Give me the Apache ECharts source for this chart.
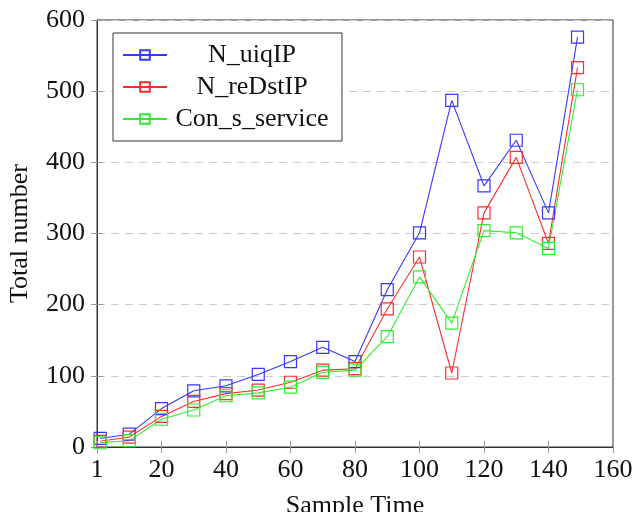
<!DOCTYPE html>
<html lang="en">
    <head>
        <meta charset="UTF-8">
        <title>Sample Time chart</title>
        <script src="https://cdn.jsdelivr.net/npm/echarts@6/dist/echarts.min.js"></script>
        <style>
            body { margin: 0; background: #fff; }
            #main { width: 635px; height: 512px; }
        </style>
    </head>
    <body>
        <div id="main"></div>
        <script>
            // sample times (x)
            var sampleTimes = [1, 10, 20, 30, 40, 50, 60, 70, 80, 90, 100, 110, 120, 130, 140, 149];
            var uiqIP = [12, 18, 54, 79, 86, 102, 120, 140, 120, 221, 301, 487, 367, 431, 329, 576];
            var reDstIP = [8, 14, 43, 64, 75, 80, 91, 108, 110, 194, 267, 104, 329, 407, 286, 533];
            var conService = [6, 9, 39, 52, 72, 76, 84, 105, 108, 155, 239, 174, 304, 301, 279, 502];
            var seriesNames = ['N_uiqIP', 'N_reDstIP', 'Con_s_service'];
            var colors = ['rgb(55,55,255)', 'rgb(255,45,45)', 'rgb(45,240,45)'];

            var font = "'Liberation Serif', 'DejaVu Serif', serif";

            function pairs(ys) {
                var out = [];
                for (var i = 0; i < sampleTimes.length; i++) {
                    out.push([sampleTimes[i], ys[i]]);
                }
                return out;
            }

            function lineSeries(name, ys, color) {
                return {
                    name: name,
                    type: 'line',
                    data: pairs(ys),
                    symbol: 'rect',
                    symbolSize: 12,
                    showSymbol: true,
                    lineStyle: { color: color, width: 1.1 },
                    itemStyle: { color: 'transparent', borderColor: color, borderWidth: 1.2 },
                    emphasis: { disabled: true },
                    animation: false
                };
            }

            var myChart = echarts.init(document.getElementById('main'));
            var option = {
                animation: false,
                grid: {
                    left: 97, right: 22, top: 20, bottom: 65,
                    outerBoundsMode: 'none',
                    show: true, borderColor: '#333', borderWidth: 1
                },
                legend: {
                    orient: 'vertical',
                    left: 113,
                    top: 33,
                    data: seriesNames,
                    itemWidth: 44,
                    itemHeight: 12,
                    itemGap: 6,
                    padding: [9, 10, 9, 9],
                    borderColor: '#333',
                    borderWidth: 1,
                    backgroundColor: '#fff',
                    selectedMode: false,
                    formatter: function (n) { return '{a|' + n + '}'; },
                    textStyle: {
                        rich: {
                            a: { fontFamily: font, fontSize: 26, color: '#111', width: 160, align: 'center', lineHeight: 26 }
                        }
                    }
                },
                xAxis: [{
                    type: 'value',
                    min: 0, max: 160, interval: 20,
                    name: 'Sample Time',
                    nameLocation: 'middle',
                    nameGap: 46,
                    nameTextStyle: { fontFamily: font, fontSize: 26, color: '#111' },
                    axisLine: { show: true, lineStyle: { color: '#333' } },
                    axisTick: { inside: true, length: 6, lineStyle: { color: '#999' } },
                    axisLabel: {
                        fontFamily: font, fontSize: 26, color: '#111', margin: 10,
                        formatter: function (v) { return v === 0 ? '1' : v; }
                    },
                    splitLine: { show: false }
                }, {
                    type: 'value',
                    position: 'top',
                    min: 0, max: 160, interval: 20,
                    axisLine: { show: true, lineStyle: { color: '#333' } },
                    axisTick: { inside: true, length: 6, lineStyle: { color: '#999' } },
                    axisLabel: { show: false },
                    splitLine: { show: false }
                }],
                yAxis: [{
                    type: 'value',
                    min: 0, max: 600, interval: 100,
                    name: 'Total number',
                    nameLocation: 'middle',
                    nameGap: 64,
                    nameRotate: 90,
                    nameTextStyle: { fontFamily: font, fontSize: 26, color: '#111' },
                    axisLine: { show: true, lineStyle: { color: '#333' } },
                    axisTick: { inside: true, length: 6, lineStyle: { color: '#999' } },
                    axisLabel: { fontFamily: font, fontSize: 26, color: '#111', margin: 12 },
                    splitLine: { show: true, lineStyle: { color: '#ccc', type: [8, 6], width: 1 } }
                }, {
                    type: 'value',
                    position: 'right',
                    min: 0, max: 600, interval: 100,
                    axisLine: { show: true, lineStyle: { color: '#333' } },
                    axisTick: { inside: true, length: 6, lineStyle: { color: '#999' } },
                    axisLabel: { show: false },
                    splitLine: { show: false }
                }],
                series: [
                    lineSeries(seriesNames[0], uiqIP, colors[0]),
                    lineSeries(seriesNames[1], reDstIP, colors[1]),
                    lineSeries(seriesNames[2], conService, colors[2])
                ]
            };
            myChart.setOption(option);
        </script>
    </body>
</html>
